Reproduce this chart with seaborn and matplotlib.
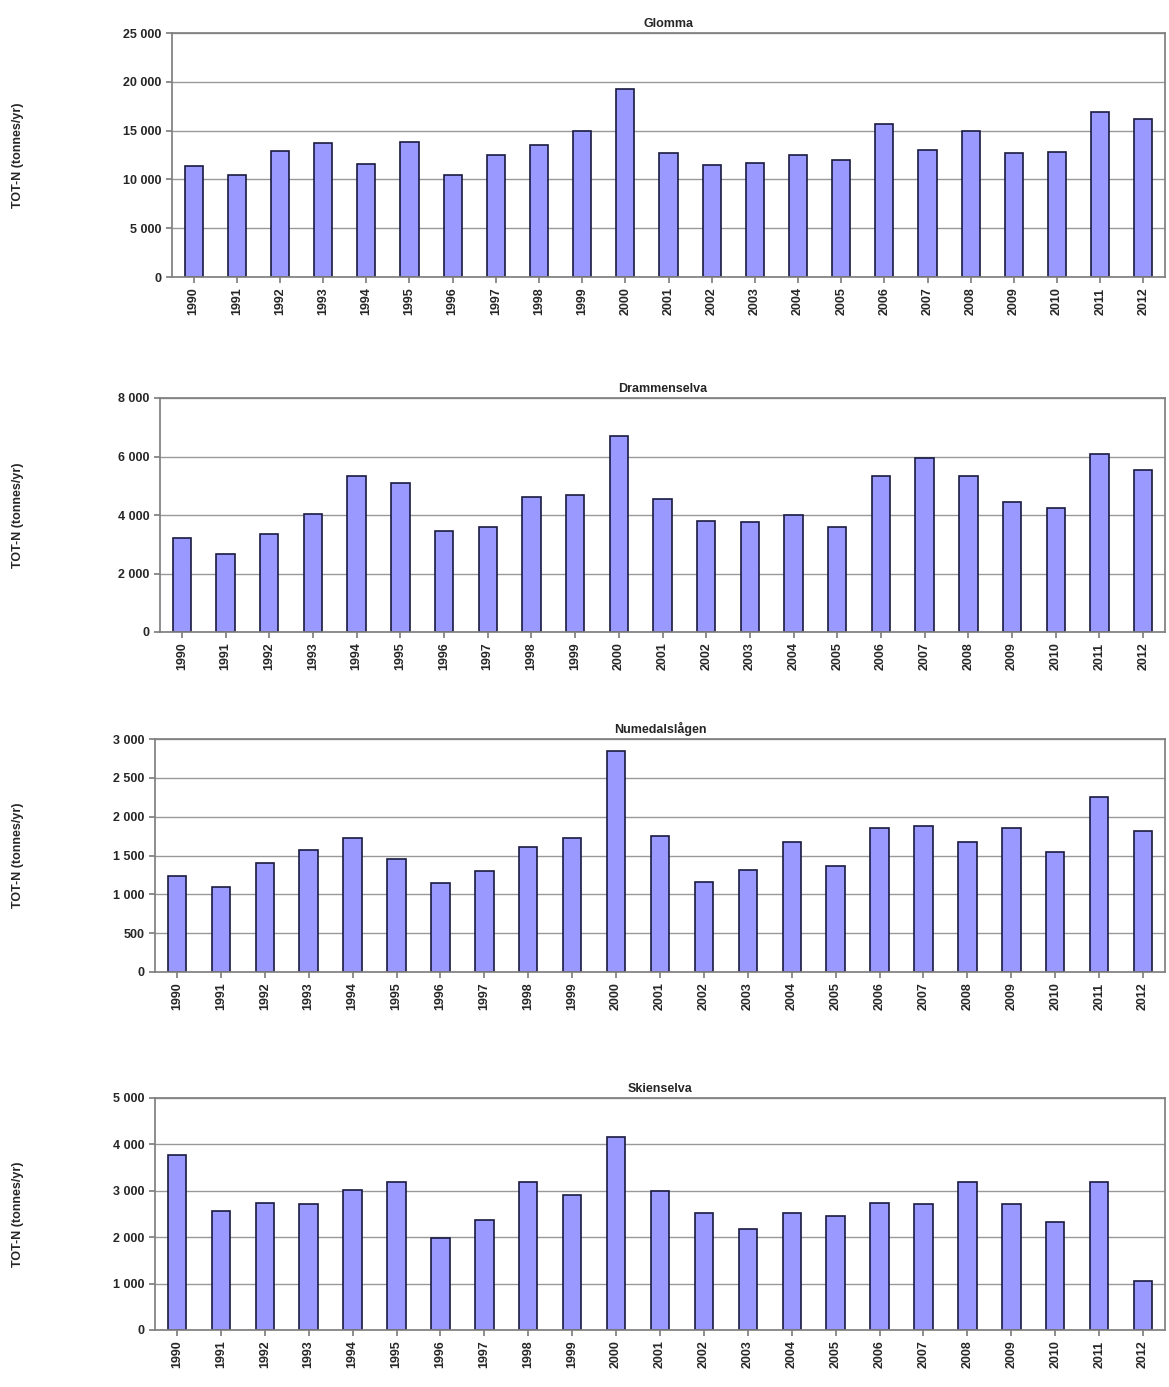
import matplotlib
matplotlib.use("Agg")
import matplotlib.pyplot as plt
import matplotlib.ticker as mticker
import seaborn as sns
import pandas as pd

years = [str(y) for y in range(1990, 2013)]

glomma = [11400, 10400, 12900, 13700, 11600, 13800, 10500, 12500, 13500, 15000, 19300,
          12700, 11500, 11700, 12500, 12000, 15700, 13000, 15000, 12700, 12800, 16900, 16200]
drammenselva = [3200, 2650, 3350, 4050, 5350, 5100, 3450, 3600, 4600, 4700, 6700,
                4550, 3800, 3750, 4000, 3600, 5350, 5950, 5350, 4450, 4250, 6100, 5550]
numedalslagen = [1230, 1100, 1400, 1570, 1720, 1450, 1150, 1300, 1610, 1730, 2850,
                 1750, 1160, 1310, 1670, 1360, 1860, 1880, 1670, 1850, 1540, 2250, 1820]
skienselva = [3770, 2560, 2740, 2710, 3020, 3200, 1990, 2370, 3200, 2920, 4150,
              2990, 2520, 2180, 2520, 2450, 2740, 2710, 3200, 2710, 2330, 3200, 1050]

rivers = ["Glomma", "Drammenselva", "Numedalslågen", "Skienselva"]
series = [glomma, drammenselva, numedalslagen, skienselva]
ymax = [25000, 8000, 3000, 5000]
ystep = [5000, 2000, 500, 1000]
ylabels = ["TOT-N (tonnes/yr)"] * 4

sns.set_theme(style="white")
plt.rcParams['font.family'] = ['Liberation Sans', 'DejaVu Sans']

fig = plt.figure(figsize=(11.69, 13.87), dpi=100)
# axes boxes in pixels: left, top, right, bottom
boxes = [
    (172, 33, 1165, 277),
    (160, 398, 1165, 632),
    (155, 739, 1165, 972),
    (155, 1098, 1165, 1330),
]
W, H = 1169, 1387
fmt = mticker.FuncFormatter(lambda v, p: f"{int(v):,}".replace(",", " "))

for (l, t, r, b), name, vals, ym, st, yl in zip(boxes, rivers, series, ymax, ystep, ylabels):
    ax = fig.add_axes([l / W, 1 - b / H, (r - l) / W, (b - t) / H])
    df = pd.DataFrame({"year": years, "value": vals})
    sns.barplot(data=df, x="year", y="value", ax=ax, color="#9999FF",
                saturation=1, width=0.42, edgecolor="#1a1a40", linewidth=1.2)
    ax.set_ylim(0, ym)
    ax.yaxis.set_major_locator(mticker.MultipleLocator(st))
    ax.yaxis.set_major_formatter(fmt)
    ax.grid(axis="y", color="#999999", linewidth=1)
    ax.set_axisbelow(True)
    ax.set_xlim(-0.5, len(years) - 0.5)
    for s in ax.spines.values():
        s.set_color("#808080")
    ax.tick_params(axis="x", rotation=90, labelsize=9, length=4, bottom=True, color="#808080")
    ax.tick_params(axis="y", labelsize=9, length=4, left=True, color="#808080")
    for lab in ax.get_xticklabels() + ax.get_yticklabels():
        lab.set_fontweight("bold")
    ax.set_xlabel("")
    ax.set_ylabel(yl, fontsize=9, fontweight="bold")
    ax.yaxis.set_label_coords((24 - l) / (r - l), 0.5)
    ax.set_title(name, fontsize=9, fontweight="bold", pad=4)

fig.savefig("out.png", dpi=100)
